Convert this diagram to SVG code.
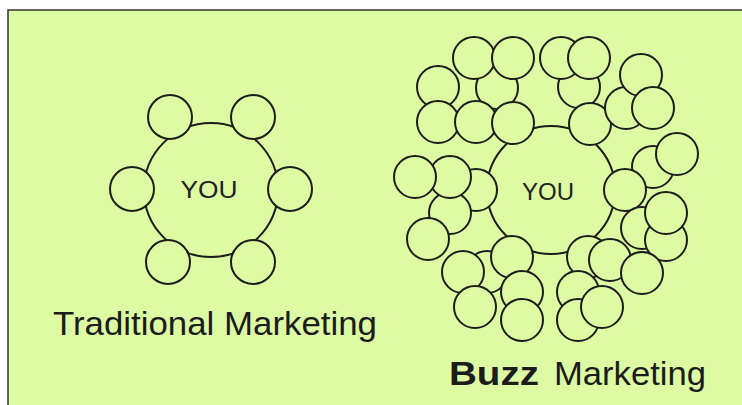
<svg xmlns="http://www.w3.org/2000/svg" width="742" height="405" viewBox="0 0 742 405">
<style>
.bg{fill:#ddfba2}
.ring{fill:none;stroke:#1c1c1c;stroke-width:2}
.n{fill:#ddfba2;stroke:#1c1c1c;stroke-width:2}
.you{font-family:"Liberation Sans",Arial,sans-serif;font-size:24px;fill:#222;text-anchor:middle}
.lbl{font-family:"Liberation Sans",Arial,sans-serif;font-size:34px;fill:#1c1c1c}
</style>
<rect width="742" height="405" fill="#ffffff"/>
<rect class="bg" x="8" y="10" width="734" height="395"/>
<path d="M8 405 V10 H742" fill="none" stroke="#333" stroke-width="1.5"/>

<g id="connectors">
  <circle class="ring" cx="211" cy="190" r="67"/>
  <circle class="ring" cx="551" cy="190" r="64"/>
</g>

<g id="traditional">
  <g id="t-you"><text class="you" x="209" y="198" textLength="57" lengthAdjust="spacingAndGlyphs">YOU</text></g>
  <g id="t1"><circle class="n" cx="170" cy="117" r="22"/></g>
  <g id="t2"><circle class="n" cx="253" cy="117" r="22"/></g>
  <g id="t3"><circle class="n" cx="132" cy="189" r="22"/></g>
  <g id="t4"><circle class="n" cx="290" cy="189" r="22"/></g>
  <g id="t5"><circle class="n" cx="168" cy="262" r="22"/></g>
  <g id="t6"><circle class="n" cx="253" cy="262" r="22"/></g>
  <g id="t-label"><text class="lbl" x="53" y="335" textLength="324" lengthAdjust="spacingAndGlyphs">Traditional Marketing</text></g>
</g>

<g id="buzz">
  <g id="b-you"><text class="you" x="548" y="200" textLength="52" lengthAdjust="spacingAndGlyphs">YOU</text></g>
  <g id="b-topleft">
    <circle class="n" cx="497" cy="88" r="21"/>
    <circle class="n" cx="474" cy="58" r="21"/>
    <circle class="n" cx="513" cy="58" r="21"/>
    <circle class="n" cx="438" cy="87" r="21"/>
    <circle class="n" cx="438" cy="122" r="21"/>
    <circle class="n" cx="476" cy="122" r="21"/>
    <circle class="n" cx="513" cy="123" r="21"/>
  </g>
  <g id="b-topright">
    <circle class="n" cx="579" cy="87" r="21"/>
    <circle class="n" cx="561" cy="58" r="21"/>
    <circle class="n" cx="589" cy="58" r="21"/>
    <circle class="n" cx="590" cy="124" r="21"/>
    <circle class="n" cx="626" cy="108" r="21"/>
    <circle class="n" cx="641" cy="75" r="21"/>
    <circle class="n" cx="653" cy="108" r="21"/>
  </g>
  <g id="b-right">
    <circle class="n" cx="653" cy="167" r="21"/>
    <circle class="n" cx="677" cy="154" r="21"/>
    <circle class="n" cx="625" cy="190" r="21"/>
    <circle class="n" cx="642" cy="228" r="21"/>
    <circle class="n" cx="666" cy="240" r="21"/>
    <circle class="n" cx="666" cy="213" r="21"/>
  </g>
  <g id="b-bottomright">
    <circle class="n" cx="588" cy="257" r="21"/>
    <circle class="n" cx="610" cy="260" r="21"/>
    <circle class="n" cx="642" cy="273" r="21"/>
    <circle class="n" cx="578" cy="292" r="21"/>
    <circle class="n" cx="578" cy="320" r="21"/>
    <circle class="n" cx="602" cy="307" r="21"/>
  </g>
  <g id="b-bottomleft">
    <circle class="n" cx="487" cy="272" r="21"/>
    <circle class="n" cx="512" cy="257" r="21"/>
    <circle class="n" cx="463" cy="272" r="21"/>
    <circle class="n" cx="475" cy="307" r="21"/>
    <circle class="n" cx="522" cy="292" r="21"/>
    <circle class="n" cx="522" cy="320" r="21"/>
  </g>
  <g id="b-left">
    <circle class="n" cx="476" cy="190" r="21"/>
    <circle class="n" cx="450" cy="213" r="21"/>
    <circle class="n" cx="450" cy="177" r="21"/>
    <circle class="n" cx="415" cy="177" r="21"/>
    <circle class="n" cx="428" cy="239" r="21"/>
  </g>
  <g id="b-label"><text class="lbl" y="385"><tspan x="449" font-weight="bold" textLength="90" lengthAdjust="spacingAndGlyphs">Buzz</tspan><tspan x="554" textLength="152" lengthAdjust="spacingAndGlyphs">Marketing</tspan></text></g>
</g>
</svg>
